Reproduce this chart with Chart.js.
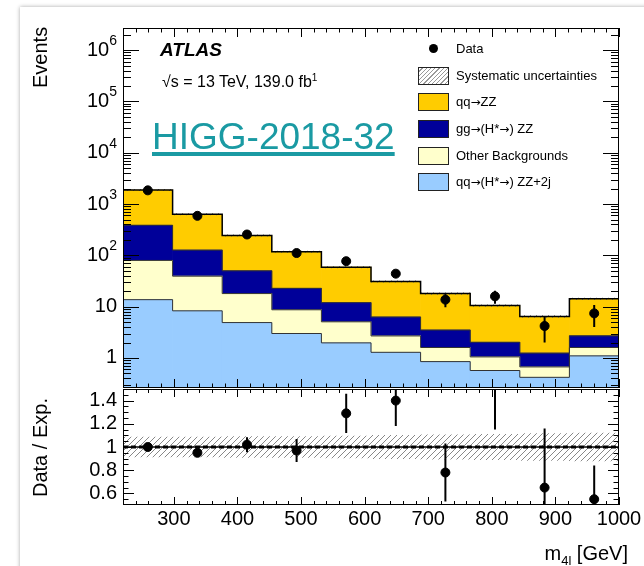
<!DOCTYPE html>
<html>
<head>
<meta charset="utf-8">
<script src="https://cdn.jsdelivr.net/npm/chart.js@4.4.0/dist/chart.umd.min.js"></script>
<style>
  html, body { margin: 0; padding: 0; background: #fff; width: 644px; height: 566px; overflow: hidden;
    font-family: "Liberation Sans", Arial, sans-serif; }
  #card { position: absolute; left: 20px; top: 7px; width: 700px; height: 620px; background: #fff;
    box-shadow: 0 0 4px rgba(0,0,0,0.35); }
  canvas { position: absolute; left: 0; }
  #main { top: 0; }
  #ratio { top: 388px; }
  .t { position: absolute; white-space: nowrap; color: #000; z-index: 5; }
  .rot { transform: rotate(-90deg); transform-origin: left top; font-size: 20px; line-height: 20px; }
  .row { position: absolute; left: 418px; height: 18px; z-index: 5; font-size: 13px; line-height: 18px; white-space: nowrap; }
  .box { position: absolute; left: 0; top: 0; width: 29px; height: 16px; border: 1px solid #222; }
  .lab { position: absolute; left: 38px; top: 0; }
  .arr { font-family: "DejaVu Sans", sans-serif; font-size: 12px; }
  .dot { position: absolute; left: 11px; top: 4px; width: 9px; height: 9px; border-radius: 50%; background: #000; }
</style>
</head>
<body>
<div id="card"></div>
<canvas id="main" width="644" height="390"></canvas>
<canvas id="ratio" width="644" height="178"></canvas>

<div class="t rot" style="left:30px; top:88px;">Events</div>
<div class="t rot" style="left:30px; top:497px;">Data / Exp.</div>
<div class="t" style="right:16px; top:543px; font-size:20px; line-height:20px;">m<sub style="font-size:13px;">4l</sub> [GeV]</div>

<div class="t" style="left:160px; top:40px; font-size:19px; line-height:19px; font-weight:bold; font-style:italic;">ATLAS</div>
<div class="t" style="left:162px; top:70px; font-size:16px; line-height:16px;">√s = 13 TeV, 139.0 fb<sup style="font-size:10px;">1</sup></div>
<div class="t" style="left:152px; top:118px; font-size:37px; line-height:37px; color:#1a9aa3; text-decoration:underline; text-decoration-thickness:4px; text-underline-offset:3px;">HIGG-2018-32</div>

<div class="row" style="top:40px;"><div class="dot"></div><div class="lab">Data</div></div>
<div class="row" style="top:67px;"><div class="box" style="background:repeating-linear-gradient(135deg,#fff 0,#fff 2px,#999 2px,#999 3px);"></div><div class="lab">Systematic uncertainties</div></div>
<div class="row" style="top:93px;"><div class="box" style="background:#ffcc00;"></div><div class="lab">qq<span class="arr">→</span>ZZ</div></div>
<div class="row" style="top:120px;"><div class="box" style="background:#000099;"></div><div class="lab">gg<span class="arr">→</span>(H*<span class="arr">→</span>) ZZ</div></div>
<div class="row" style="top:147px;"><div class="box" style="background:#ffffcc;"></div><div class="lab">Other Backgrounds</div></div>
<div class="row" style="top:173px;"><div class="box" style="background:#99ccff;"></div><div class="lab">qq<span class="arr">→</span>(H*<span class="arr">→</span>) ZZ+2j</div></div>

<script>
// bins of m4l [GeV]
const binEdges = [220, 298, 376, 454, 532, 610, 688, 766, 844, 922, 1000];

// expected events per process (stacked, bottom to top)
const qqH2j    = [13.7, 8.3, 4.9, 3.0, 1.97, 1.29, 0.85, 0.57, 0.42, 1.1];
const otherBkg = [66, 31, 13.1, 5.7, 3.1, 1.4, 0.75, 0.48, 0.25, 0.5];
const ggZZ     = [307, 87, 32, 14.1, 6.9, 3.6, 1.9, 0.98, 0.57, 1.1];
const qqZZ     = [1490, 507, 195, 95, 47, 24.7, 14.5, 8.5, 5.2, 11.5];
const sysMain  = [0.03, 0.03, 0.03, 0.03, 0.03, 0.03, 0.035, 0.035, 0.04, 0.04];

// observed
const dataEvents = [1850, 590, 255, 111, 77, 44, 13.7, 15.9, 4.2, 7.4];
const dataErr    = [43, 24, 16, 10.5, 8.8, 6.6, 4.0, 4.5, 2.2, 3.4];

// ratio panel
const ratio    = [1.0, 0.95, 1.02, 0.97, 1.29, 1.40, 0.78, 1.55, 0.65, 0.55];
const ratioErr = [0.02, 0.03, 0.065, 0.1, 0.17, 0.22, 0.25, 0.4, 0.51, 0.29];
const ratioSys = [0.085, 0.085, 0.09, 0.09, 0.095, 0.1, 0.105, 0.11, 0.115, 0.12];
const refRatio = 1;

// axes
const xTicks = [300, 400, 500, 600, 700, 800, 900, 1000];
const yTicksMain = [1, 10, 100, 1000, 10000, 100000, 1000000];
const yTicksRatio = [0.6, 0.8, 1, 1.2, 1.4];
const yMin = 0.26, yMax = 2.7e6;
const rMin = 0.5, rMax = 1.5;

const FONT = '"Liberation Sans", Arial, sans-serif';
const colors = ['#99ccff', '#ffffcc', '#000099', '#ffcc00'];
const layers = [qqH2j, otherBkg, ggZZ, qqZZ];

const centers = binEdges.slice(0, -1).map((e, i) => (e + binEdges[i + 1]) / 2);

// cumulative stack
const tops = [];
let run = centers.map(() => 0);
layers.forEach(l => {
  const lo = run.slice();
  run = run.map((v, i) => v + l[i]);
  tops.push({ lo: lo, hi: run.slice() });
});
const total = run;

function hatch(color) {
  const c = document.createElement('canvas');
  c.width = 6; c.height = 6;
  const g = c.getContext('2d');
  g.strokeStyle = color; g.lineWidth = 1;
  g.beginPath();
  g.moveTo(0, 6); g.lineTo(6, 0);
  g.moveTo(-1, 1); g.lineTo(1, -1);
  g.moveTo(5, 7); g.lineTo(7, 5);
  g.stroke();
  return g.createPattern(c, 'repeat');
}

const stepPts = vals => binEdges.map((e, i) => ({ x: e, y: vals[Math.min(i, vals.length - 1)] }));

// ROOT-style frame, inner ticks, error bars
function framePlugin(cfg) {
  return {
    id: 'frame',
    afterDatasetsDraw(chart) {
      const { ctx, chartArea: a, scales } = chart;
      const x = scales.x, y = scales.y;
      ctx.save();
      // error bars
      ctx.beginPath();
      ctx.rect(a.left, a.top, a.right - a.left, a.bottom - a.top);
      ctx.clip();
      ctx.strokeStyle = '#000'; ctx.lineWidth = 2;
      ctx.beginPath();
      cfg.vals.forEach((v, i) => {
        const px = x.getPixelForValue(centers[i]);
        ctx.moveTo(px, y.getPixelForValue(v - cfg.errs[i]));
        ctx.lineTo(px, y.getPixelForValue(v + cfg.errs[i]));
      });
      ctx.stroke();
      ctx.restore();

      ctx.save();
      ctx.strokeStyle = '#000'; ctx.lineWidth = 1;
      ctx.beginPath();
      for (let v = binEdges[0]; v <= binEdges[binEdges.length - 1]; v += 20) {
        const px = Math.round(x.getPixelForValue(v)) + 0.5;
        const major = xTicks.includes(v);
        const lb = major ? cfg.xLenBot : cfg.xLenBot / 2;
        const lt = major ? cfg.xLenTop : cfg.xLenTop / 2;
        ctx.moveTo(px, a.bottom); ctx.lineTo(px, a.bottom - lb);
        ctx.moveTo(px, a.top); ctx.lineTo(px, a.top + lt);
      }
      cfg.yMinor.forEach(v => {
        const py = Math.round(y.getPixelForValue(v)) + 0.5;
        const l = cfg.yMajor.includes(v) ? cfg.yLen : cfg.yLen / 2;
        ctx.moveTo(a.left, py); ctx.lineTo(a.left + l, py);
        ctx.moveTo(a.right, py); ctx.lineTo(a.right - l, py);
      });
      ctx.stroke();
      ctx.strokeRect(a.left + 0.5, a.top + 0.5, a.right - a.left - 1, a.bottom - a.top - 1);

      // y labels
      ctx.fillStyle = '#000';
      ctx.textAlign = 'right';
      ctx.textBaseline = 'middle';
      cfg.yMajor.forEach(v => {
        const py = y.getPixelForValue(v);
        const xr = a.left - 6;
        if (cfg.log) {
          const e = Math.round(Math.log10(v));
          if (e <= 1) {
            ctx.font = '20px ' + FONT;
            ctx.fillText(String(v), xr, py);
          } else {
            ctx.font = '14px ' + FONT;
            const w = ctx.measureText(String(e)).width;
            ctx.fillText(String(e), xr, py - 9);
            ctx.font = '20px ' + FONT;
            ctx.fillText('10', xr - w, py);
          }
        } else {
          ctx.font = '20px ' + FONT;
          ctx.fillText(String(Number(v.toFixed(2))), xr, py);
        }
      });
      ctx.restore();
    }
  };
}

const logMinor = [];
for (let d = 0.1; d <= 1e6; d *= 10) {
  for (let m = 1; m <= 9; m++) {
    const v = Math.round(m * d * 1e6) / 1e6;
    if (v >= yMin && v <= yMax) logMinor.push(m === 1 ? yTicksMain.find(t => Math.abs(t - v) < 1e-6) ?? v : v);
  }
}
const ratioMinor = [];
for (let v = 0.55; v < 1.5; v += 0.05) {
  const r = Math.round(v * 100) / 100;
  ratioMinor.push(yTicksRatio.find(t => Math.abs(t - r) < 1e-6) ?? r);
}

const barBase = { type: 'bar', grouped: false, borderWidth: 0, categoryPercentage: 1, barPercentage: 1 };

const mainDatasets = [
  { type: 'scatter', data: centers.map((c, i) => ({ x: c, y: dataEvents[i] })),
    backgroundColor: '#000', borderColor: '#000', pointRadius: 4.5, order: 0 },
  { type: 'line', data: stepPts(total), stepped: true, borderColor: '#000', borderWidth: 1.5,
    pointRadius: 0, fill: false, order: 1 },
  ...tops.slice(0, 3).map(t => ({ type: 'line', data: stepPts(t.hi), stepped: true, borderColor: '#333',
    borderWidth: 1, pointRadius: 0, fill: false, order: 2 })),
  Object.assign({}, barBase, { data: centers.map((c, i) => ({ x: c, y: [total[i] * (1 - sysMain[i]), total[i] * (1 + sysMain[i])] })),
    backgroundColor: hatch('#777'), order: 3 }),
  ...tops.map((t, k) => Object.assign({}, barBase, {
    data: centers.map((c, i) => ({ x: c, y: [Math.max(t.lo[i], yMin), t.hi[i]] })),
    backgroundColor: colors[k], order: 4 }))
];

new Chart(document.getElementById('main'), {
  type: 'bar',
  data: { datasets: mainDatasets },
  options: {
    responsive: false, animation: false,
    layout: { autoPadding: false, padding: { top: 28, right: 25, bottom: 2, left: 0 } },
    plugins: { legend: { display: false }, tooltip: { enabled: false } },
    scales: {
      x: { type: 'linear', min: binEdges[0], max: binEdges[binEdges.length - 1], offset: false, display: false },
      y: { type: 'logarithmic', min: yMin, max: yMax, beginAtZero: false,
        grid: { display: false }, border: { display: false }, ticks: { display: false },
        afterFit: s => { s.width = 123; } }
    }
  },
  plugins: [framePlugin({ vals: dataEvents, errs: dataErr, log: true, yMajor: yTicksMain, yMinor: logMinor,
    yLen: 16, xLenBot: 9, xLenTop: 9 })]
});

const ratioDatasets = [
  { type: 'scatter', data: centers.map((c, i) => ({ x: c, y: ratio[i] })),
    backgroundColor: '#000', borderColor: '#000', pointRadius: 4.5, order: 0 },
  { type: 'line', data: [{ x: binEdges[0], y: refRatio }, { x: binEdges[binEdges.length - 1], y: refRatio }],
    borderColor: '#000', borderWidth: 3, borderDash: [5, 3], pointRadius: 0, order: 1 },
  { type: 'line', data: [{ x: binEdges[0], y: refRatio }, { x: binEdges[binEdges.length - 1], y: refRatio }],
    borderColor: '#000', borderWidth: 1.5, pointRadius: 0, order: 1 },
  Object.assign({}, barBase, { data: centers.map((c, i) => ({ x: c, y: [refRatio - ratioSys[i], refRatio + ratioSys[i]] })),
    backgroundColor: hatch('#888'), order: 2 })
];

new Chart(document.getElementById('ratio'), {
  type: 'bar',
  data: { datasets: ratioDatasets },
  options: {
    responsive: false, animation: false,
    layout: { autoPadding: false, padding: { top: 1, right: 25, bottom: 0, left: 0 } },
    plugins: { legend: { display: false }, tooltip: { enabled: false } },
    scales: {
      x: { type: 'linear', min: binEdges[0], max: binEdges[binEdges.length - 1], offset: false,
        grid: { display: false }, border: { display: false },
        afterBuildTicks: s => { s.ticks = xTicks.map(v => ({ value: v })); },
        ticks: { color: '#000', font: { family: FONT, size: 20, lineHeight: 1 }, padding: -4, maxRotation: 0,
          callback: v => String(v) },
        afterFit: s => { s.height = 61; } },
      y: { type: 'linear', min: rMin, max: rMax,
        grid: { display: false }, border: { display: false }, ticks: { display: false },
        afterFit: s => { s.width = 123; } }
    }
  },
  plugins: [framePlugin({ vals: ratio, errs: ratioErr, log: false, yMajor: yTicksRatio, yMinor: ratioMinor,
    yLen: 11, xLenBot: 8, xLenTop: 8 })]
});
</script>
</body>
</html>
